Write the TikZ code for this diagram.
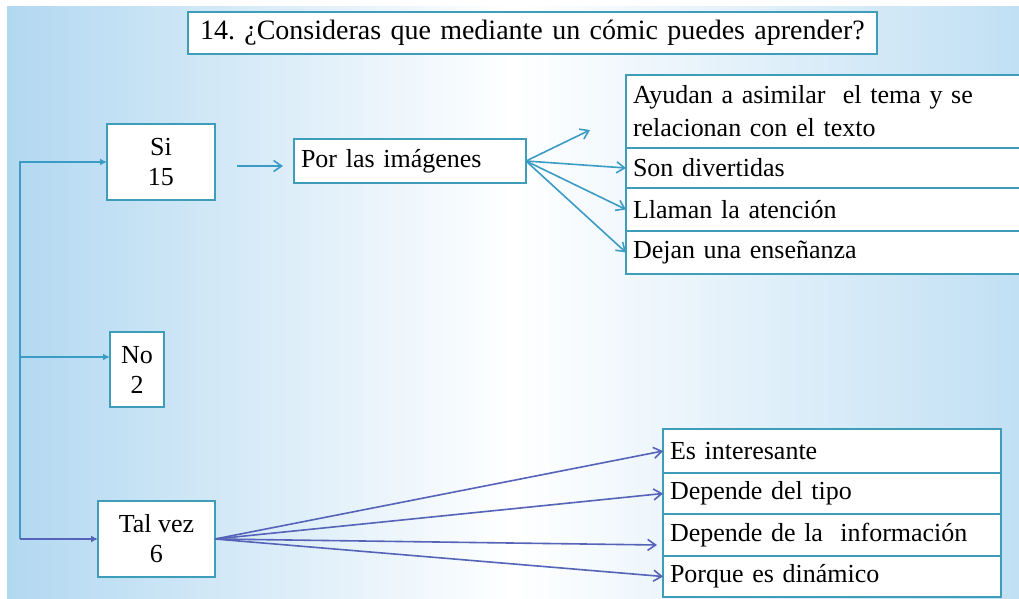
\documentclass[tikz,border=0pt]{standalone}
\usepackage{fontspec}
\setmainfont{Liberation Serif}
\usetikzlibrary{arrows.meta,positioning}
\definecolor{boxteal}{HTML}{3E9DB8}
\definecolor{linkteal}{HTML}{3A9CC4}
\definecolor{linkblue}{HTML}{5563B8}
\definecolor{bgblue}{HTML}{B2D8F1}
\frenchspacing
\tikzset{
  answer/.style={draw=boxteal, fill=white, line width=0.9pt, anchor=north west,
    inner sep=0pt, outer sep=0pt, align=center, font=\fontsize{13}{15}\selectfont},
  reason/.style={draw=boxteal, fill=white, line width=0.9pt, anchor=north west,
    inner xsep=3.5pt, inner ysep=0pt, outer sep=0pt, align=left,
    font=\fontsize{13}{16.5}\selectfont},
  tealarrow/.style={draw=linkteal, line width=0.8pt, -{Straight Barb[length=4pt,width=5.5pt]}},
  bluearrow/.style={draw=linkblue, line width=0.8pt, -{Straight Barb[length=4pt,width=5.5pt]}},
  railarrow/.style={draw=#1, line width=0.9pt, -{Latex[length=3.5pt,width=3.5pt]}},
}
\begin{document}
\begin{tikzpicture}[x=0.5pt,y=-0.5pt]
  \useasboundingbox (0,0) rectangle (1019,599);
  \clip (0,0) rectangle (1019,599);
  % background
  \fill[white] (0,0) rectangle (1019,599);
  \shade[left color=bgblue, right color=bgblue!80, middle color=white] (7,7) rectangle (1019,599);
  % question
  \node[reason, text width=332.5pt, inner xsep=6pt, minimum height=21pt,
    font=\fontsize{14}{16}\selectfont] (pregunta) at (188,12)
    {14. ¿Consideras que mediante un cómic puedes aprender?};
  % answers
  \node[answer, minimum width=54pt, minimum height=38pt] (si) at (107,124) {Si\\15};
  \node[answer, minimum width=27pt, minimum height=37.5pt] (no) at (110,332) {No\\2};
  \node[answer, minimum width=58.5pt, minimum height=38pt] (talvez) at (98,501) {Tal vez\\6};
  \node[reason, text width=109pt, minimum height=22pt] (imagenes) at (294,139) {Por las imágenes};
  % reasons for si
  \node[reason, text width=205pt, minimum height=36.5pt] (asimilar) at (626,75)
    {Ayudan a asimilar~ el tema y se\\relacionan con el texto};
  \node[reason, text width=205pt, minimum height=20pt, below=0pt of asimilar] (divertidas) {Son divertidas};
  \node[reason, text width=205pt, minimum height=21.5pt, below=0pt of divertidas] (atencion) {Llaman la atención};
  \node[reason, text width=205pt, minimum height=21.5pt, below=0pt of atencion] (ensenanza) {Dejan una enseñanza};
  % reasons for tal vez
  \node[reason, text width=162pt, minimum height=22pt] (interesante) at (663,429) {Es interesante};
  \node[reason, text width=162pt, minimum height=20.5pt, below=0pt of interesante] (tipo) {Depende del tipo};
  \node[reason, text width=162pt, minimum height=21pt, below=0pt of tipo] (informacion) {Depende de la~ información};
  \node[reason, text width=162pt, minimum height=20.5pt, below=0pt of informacion] (dinamico) {Porque es dinámico};
  % rail on the left
  \coordinate (railmid) at (20,357);
  \coordinate (railbot) at (20,539);
  \draw[railarrow=linkteal] (railbot) |- (si.west);
  \draw[railarrow=linkteal] (railmid) -- (railmid -| no.west);
  \draw[railarrow=linkblue] (railbot) -- (talvez.west);
  % links
  \draw[tealarrow, shorten <=11pt, shorten >=5.5pt] ([yshift=-2pt]si.east) -- ([yshift=-2.5pt]imagenes.west);
  \coordinate (asimtip) at (590,130);
  \draw[tealarrow] (imagenes.east) -- (asimtip);
  \draw[tealarrow] (imagenes.east) -- (divertidas.west);
  \draw[tealarrow] (imagenes.east) -- (atencion.west);
  \draw[tealarrow] (imagenes.east) -- (ensenanza.west);
  \coordinate (infotip) at (657,545);
  \draw[bluearrow] (talvez.east) -- (interesante.west);
  \draw[bluearrow] (talvez.east) -- (tipo.west);
  \draw[bluearrow] (talvez.east) -- (infotip);
  \draw[bluearrow] (talvez.east) -- (dinamico.west);
\end{tikzpicture}
\end{document}
